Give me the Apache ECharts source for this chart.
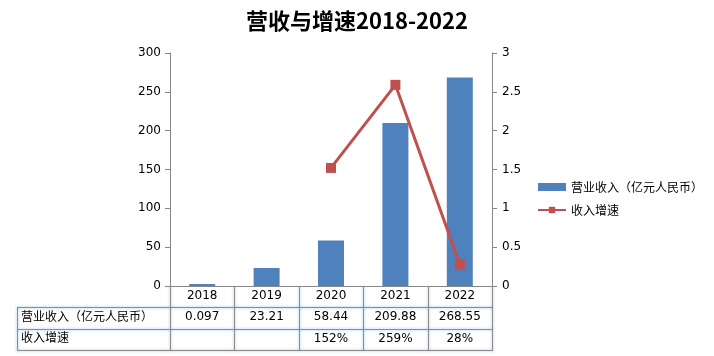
<!DOCTYPE html>
<html><head><meta charset="utf-8">
<script src="https://cdn.jsdelivr.net/npm/echarts@6/dist/echarts.min.js"></script>
<style>html,body{margin:0;padding:0;background:#fff}#c{width:714px;height:356px}</style>
</head><body><div id="c"></div>
<script>
const title = '营收与增速2018-2022';
const years = ['2018', '2019', '2020', '2021', '2022'];
const revenueName = '营业收入（亿元人民币）';
const growthName = '收入增速';
const revenue = [0.097, 23.21, 58.44, 209.88, 268.55];
const revenueLabels = ['0.097', '23.21', '58.44', '209.88', '268.55'];
const growthPct = [null, null, 152, 259, 28];
const growthRatio = growthPct.map(v => v == null ? null : v / 100);

const FONT = '"Noto Sans CJK SC", "DejaVu Sans", sans-serif';
const AXISFONT = '"DejaVu Sans", sans-serif';
const lineCol = '#8c8c8c';
const glow = 'rgba(110,160,215,0.8)';
const lineStyle = {stroke: lineCol, lineWidth: 1, shadowBlur: 3, shadowColor: glow};

const chart = echarts.init(document.getElementById('c'));
const tableAxis = (offset, formatter) => ({
  type: 'category', data: years, position: 'bottom', offset: offset,
  axisLine: {show: false}, axisTick: {show: false},
  axisLabel: {margin: 4, fontSize: 12, color: '#000', fontFamily: AXISFONT, formatter: formatter}
});
chart.setOption({
  animation: false,
  title: {text: title, left: 'center', top: 5,
    textStyle: {fontSize: 22, fontWeight: 'bold', color: '#000', fontFamily: FONT}},
  grid: {left: 170, right: 222, top: 53, bottom: 70},
  legend: {
    orient: 'vertical', left: 532, top: 176, itemWidth: 28, itemHeight: 8, itemGap: 11,
    textStyle: {fontSize: 12, color: '#000', fontFamily: FONT},
    data: [{name: revenueName, icon: 'rect'}, {name: growthName}]
  },
  xAxis: [
    {type: 'category', data: years, position: 'bottom',
      axisLine: {lineStyle: {color: '#868686'}},
      axisTick: {show: false},
      axisLabel: {margin: 4, fontSize: 12, color: '#000', fontFamily: AXISFONT}},
    tableAxis(21, (v, i) => revenueLabels[i]),
    tableAxis(43, (v, i) => growthPct[i] == null ? '' : growthPct[i] + '%')
  ],
  yAxis: [
    {type: 'value', min: 0, max: 300, interval: 50, position: 'left',
      axisLine: {show: true, lineStyle: {color: '#868686'}},
      axisTick: {show: true, length: 5, lineStyle: {color: '#868686'}},
      splitLine: {show: false},
      axisLabel: {margin: 9, fontSize: 12, color: '#000', fontFamily: AXISFONT}},
    {type: 'value', min: 0, max: 3, interval: 0.5, position: 'right',
      axisLine: {show: true, lineStyle: {color: '#868686'}},
      axisTick: {show: true, length: 5, lineStyle: {color: '#868686'}},
      splitLine: {show: false},
      axisLabel: {margin: 10, fontSize: 12, color: '#000', fontFamily: AXISFONT}}
  ],
  series: [
    {name: revenueName, type: 'bar', data: revenue, barWidth: 26, yAxisIndex: 0,
      barMinHeight: 2, itemStyle: {color: '#4F81BD'}},
    {name: growthName, type: 'line', data: growthRatio, yAxisIndex: 1,
      symbol: 'rect', symbolSize: 10, connectNulls: false,
      lineStyle: {color: '#C0504D', width: 3}, itemStyle: {color: '#C0504D'}}
  ]
});

// table grid lines, positioned from the category axis scale
const c0 = chart.convertToPixel({xAxisIndex: 0}, years[0]);
const c1 = chart.convertToPixel({xAxisIndex: 0}, years[1]);
const band = c1 - c0;
const yAxisBase = chart.convertToPixel({yAxisIndex: 0}, 0);
const tableTop = Math.round(yAxisBase);
const rowY = [tableTop + 21, tableTop + 43, tableTop + 64];
const xLeft = Math.round(c0 - band / 2);
const xRight = Math.round(c0 + band * (years.length - 0.5));
const g = [];
for (let i = 0; i <= years.length; i++) {
  const x = Math.round(c0 - band / 2 + band * i) + 0.5;
  g.push({type: 'line', z: 1, shape: {x1: x, y1: tableTop, x2: x, y2: rowY[2] + 1}, style: lineStyle});
}
rowY.forEach(y => g.push({type: 'line', z: 1, shape: {x1: 17, y1: y + 0.5, x2: xRight + 1, y2: y + 0.5}, style: lineStyle}));
g.push({type: 'line', z: 1, shape: {x1: 17.5, y1: rowY[0], x2: 17.5, y2: rowY[2] + 1}, style: lineStyle});
g.push({type: 'text', left: 21, top: rowY[0] + 3, style: {text: revenueName, fontSize: 12, fill: '#000', fontFamily: FONT}});
g.push({type: 'text', left: 21, top: rowY[1] + 2, style: {text: growthName, fontSize: 12, fill: '#000', fontFamily: FONT}});
chart.setOption({graphic: g});
</script></body></html>
